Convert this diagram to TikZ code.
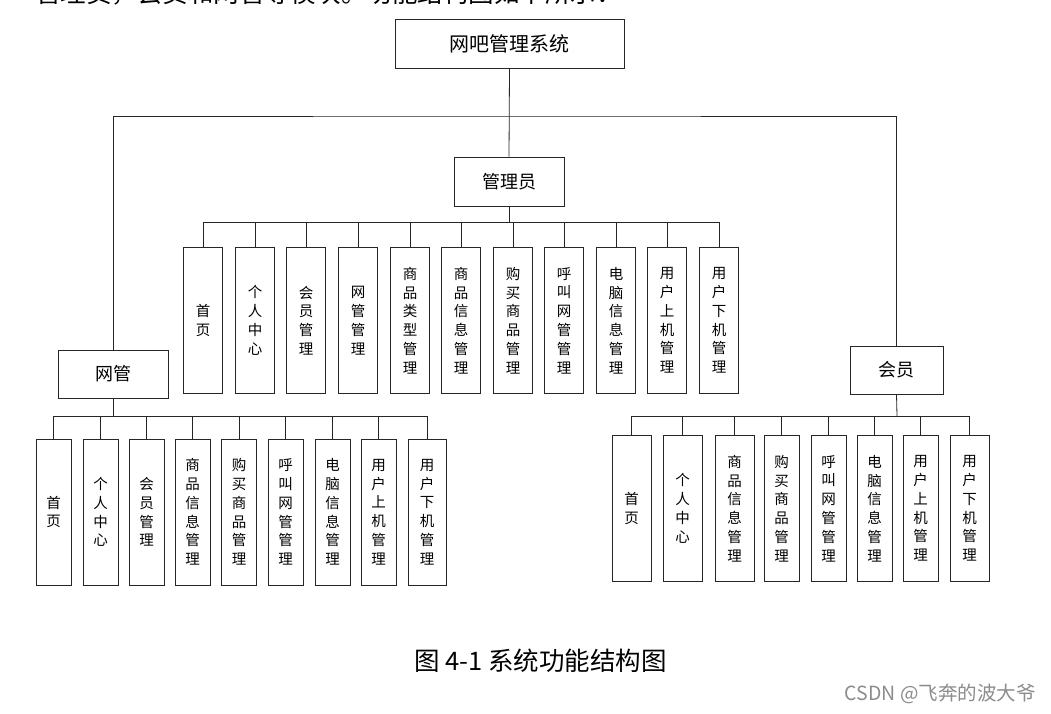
\documentclass[tikz,border=0pt]{standalone}
\usepackage{fontspec}
\newfontfamily\cjk{Noto Sans CJK SC}
\begin{document}
\begin{tikzpicture}[x=1pt,y=-1pt,
  line/.style={draw=black!85, line width=0.8pt},
  box/.style={draw=black!85, line width=0.8pt, fill=white, inner sep=0pt, font=\cjk\fontsize{18}{22}\selectfont},
  vbox/.style={draw=black!85, line width=0.8pt, fill=white, inner sep=0pt, minimum height=146pt, align=center, font=\cjk\fontsize{14.5}{18.8}\selectfont},
  para/.style={inner sep=0pt, anchor=west, font=\cjk\fontsize{25.5}{28}\selectfont}]
\useasboundingbox (0,0) rectangle (1051,714);
\fill[white] (0,0) rectangle (1051,714);
% top partial paragraph line
\node[para] (ptop) at (35,-7) {管理员，会员和网管等模块。功能结构图如下所示：};
% level 0 and 1
\node[box, minimum width=229pt, minimum height=49pt, font=\cjk\fontsize{20}{24}\selectfont] (root) at (509.5,43.5) {网吧管理系统};
\node[box, minimum width=110pt, minimum height=49pt] (admin) at (509,181.5) {管理员};
\node[box, minimum width=110pt, minimum height=48pt] (wg) at (113,374) {网管};
\node[box, minimum width=93pt, minimum height=48pt] (hy) at (896.5,370) {会员};
% bus coordinates
\coordinate (b0) at (509,116);
\coordinate (ab) at (509,222);
\coordinate (wb) at (113,416);
\coordinate (hb) at (897,416);
% admin children
\foreach \n/\x/\t in {a1/203/首\\页, a2/255/个\\人\\中\\心, a3/306/会\\员\\管\\理, a4/358/网\\管\\管\\理,
  a5/410/商\\品\\类\\型\\管\\理, a6/461/商\\品\\信\\息\\管\\理, a7/513/购\\买\\商\\品\\管\\理,
  a8/564/呼\\叫\\网\\管\\管\\理, a9/616/电\\脑\\信\\息\\管\\理, a10/667/用\\户\\上\\机\\管\\理, a11/719/用\\户\\下\\机\\管\\理}
  {\node[vbox, minimum width=39pt] (\n) at (\x,320.5) {\t};}
% wg children
\foreach \n/\x/\w/\t in {w1/53.5/35/首\\页, w2/100.5/35/个\\人\\中\\心, w3/146.5/35/会\\员\\管\\理,
  w4/192.5/35/商\\品\\信\\息\\管\\理, w5/239/35/购\\买\\商\\品\\管\\理, w6/285.5/35/呼\\叫\\网\\管\\管\\理,
  w7/332.5/35/电\\脑\\信\\息\\管\\理, w8/378.5/35/用\\户\\上\\机\\管\\理, w9/427/38/用\\户\\下\\机\\管\\理}
  {\node[vbox, minimum width=\w pt] (\n) at (\x,512) {\t};}
% hy children
\foreach \n/\x/\w/\t in {h1/631.5/39/首\\页, h2/682.5/39/个\\人\\中\\心, h3/734.5/39/商\\品\\信\\息\\管\\理,
  h4/781.5/35/购\\买\\商\\品\\管\\理, h5/828.5/35/呼\\叫\\网\\管\\管\\理, h6/874.5/35/电\\脑\\信\\息\\管\\理,
  h7/920.5/35/用\\户\\上\\机\\管\\理, h8/969.5/39/用\\户\\下\\机\\管\\理}
  {\node[vbox, minimum width=\w pt] (\n) at (\x,508.5) {\t};}
% connectors
\draw[line] (root.south) -- (admin.north);
\draw[line] (wg.north) |- (b0) -| (hy.north);
\draw[line] (admin.south) -- (ab);
\foreach \n in {a1,a2,a3,a4,a5,a6,a7,a8,a9,a10,a11} {\draw[line] (\n.north) |- (ab);}
\draw[line] (wg.south) -- (wb);
\foreach \n in {w1,w2,w3,w4,w5,w6,w7,w8,w9} {\draw[line] (\n.north) |- (wb);}
\draw[line] (hy.south) -- (hb);
\foreach \n in {h1,h2,h3,h4,h5,h6,h7,h8} {\draw[line] (\n.north) |- (hb);}
% caption and watermark
\node[inner sep=0pt, anchor=west, font=\cjk\fontsize{25.5}{28}\selectfont] (cap) at (414,661) {图 4-1 系统功能结构图};
\node[inner sep=0pt, anchor=east, text=black!45, font=\cjk\fontsize{19.5}{22}\selectfont] (wm) at (1036,694) {CSDN @飞奔的波大爷};
\end{tikzpicture}
\end{document}
